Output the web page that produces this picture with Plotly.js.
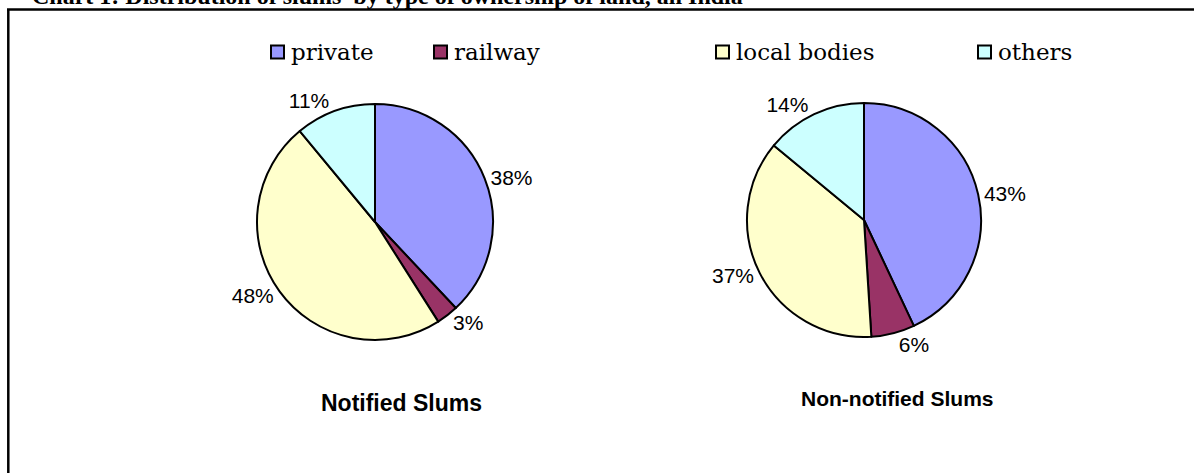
<!DOCTYPE html>
<html>
<head>
<meta charset="utf-8">
<script src="https://cdn.plot.ly/plotly-3.0.1.min.js"></script>
<style>html,body{margin:0;padding:0;background:#fff;}#chart{width:1194px;height:473px;}</style>
</head>
<body>
<div id="chart"></div>
<script>
var categories = ["private", "railway", "local bodies", "others"];
var notifiedValues = [38, 3, 48, 11];
var nonNotifiedValues = [43, 6, 37, 14];
var sliceColors = ["#9999FF", "#993366", "#FFFFCC", "#CCFFFF"];
var pieTitles = ["Notified Slums", "Non-notified Slums"];
var chartTitle = "Chart 1: Distribution of slums  by type of ownership of land, all India";

var W = 1194, H = 473;
function px(x) { return x / W; }
function py(y) { return 1 - y / H; }

function pieTrace(values, cx, cy, r) {
  return {
    type: "pie",
    labels: categories,
    values: values,
    sort: false,
    direction: "clockwise",
    rotation: 0,
    marker: { colors: sliceColors, line: { color: "#000", width: 2 } },
    textposition: "outside",
    texttemplate: "%{percent:.0%}",
    textfont: { family: "Liberation Sans, Arial, sans-serif", size: 21, color: "#000" },
    hoverinfo: "label+percent",
    showlegend: false,
    domain: { x: [px(cx - r), px(cx + r)], y: [py(cy + r), py(cy - r)] }
  };
}

var data = [
  pieTrace(notifiedValues, 375, 222, 118),
  pieTrace(nonNotifiedValues, 864, 220, 117)
];

var shapes = [
  { type: "line", xref: "paper", yref: "paper", x0: px(7), x1: px(1194), y0: py(9.5), y1: py(9.5), line: { color: "#000", width: 2.5 } },
  { type: "line", xref: "paper", yref: "paper", x0: px(8.3), x1: px(8.3), y0: py(9.5), y1: py(473), line: { color: "#000", width: 2.5 } }
];

var annotations = [
  { text: "<b>" + chartTitle + "</b>", xref: "paper", yref: "paper", x: px(30), y: py(11), xanchor: "left", yanchor: "bottom", showarrow: false,
    font: { family: "Liberation Serif, serif", size: 24, color: "#000" } },
  { text: "<b>" + pieTitles[0] + "</b>", xref: "paper", yref: "paper", x: px(401), y: py(403), xanchor: "center", yanchor: "middle", showarrow: false,
    font: { family: "Liberation Sans, Arial, sans-serif", size: 23, color: "#000" } },
  { text: "<b>" + pieTitles[1] + "</b>", xref: "paper", yref: "paper", x: px(897), y: py(398), xanchor: "center", yanchor: "middle", showarrow: false,
    font: { family: "Liberation Sans, Arial, sans-serif", size: 21, color: "#000" } }
];

// legend built from the categories
var legendSquareX = [271, 434, 716, 978];
var legendY = 52;
var sq = 13;
categories.forEach(function (c, i) {
  var x0 = legendSquareX[i];
  shapes.push({ type: "rect", xref: "paper", yref: "paper", x0: px(x0), x1: px(x0 + sq), y0: py(legendY + sq / 2), y1: py(legendY - sq / 2),
    fillcolor: sliceColors[i], line: { color: "#000", width: 2 } });
  annotations.push({ text: c, xref: "paper", yref: "paper", x: px(x0 + sq + 5), y: py(legendY), xanchor: "left", yanchor: "middle", showarrow: false,
    font: { family: "DejaVu Serif, serif", size: 23, color: "#000" } });
});

var layout = {
  width: W, height: H,
  margin: { l: 0, r: 0, t: 0, b: 0 },
  paper_bgcolor: "#fff",
  showlegend: false,
  shapes: shapes,
  annotations: annotations
};

Plotly.newPlot("chart", data, layout, { displayModeBar: false, staticPlot: true });
</script>
</body>
</html>
